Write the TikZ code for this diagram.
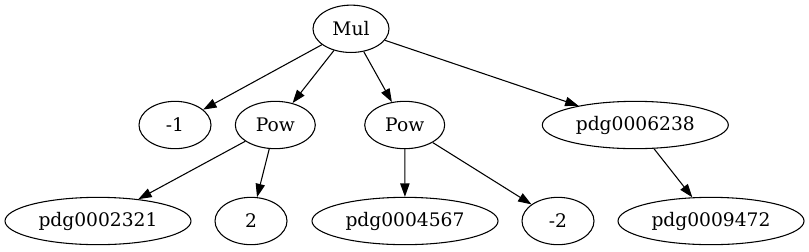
\documentclass[tikz,border=0pt]{standalone}
\usepackage{fontspec}
\setmainfont{DejaVu Serif}
\usetikzlibrary{arrows.meta,shapes.geometric}
\tikzstyle{term} = [draw, ellipse, line width=0.8pt, inner sep=0pt,
    minimum height=35.5pt, font=\fontsize{14}{16}\selectfont]
\tikzstyle{diredge} = [line width=0.8pt, -{Triangle[length=10pt,width=7pt]}]

\begin{document}
\begin{tikzpicture}[x=0.75pt,y=-0.75pt]
    \useasboundingbox (0,0) rectangle (809,251);
    \node[term, minimum width=57pt] (mul) at (351,28.8) {Mul};
    \foreach \n/\x/\w/\lab in {neg1/175/54/-1,powa/275.3/60/Pow,powb/404.7/60/Pow,pdgd/635.3/139.5/pdg0006238}{
        \node[term, minimum width=\w pt] (\n) at (\x,125) {\lab};
    }
    \foreach \n/\x/\w/\lab in {pdga/98/139.5/pdg0002321,two/251/54/2,pdgb/405/139.5/pdg0004567,neg2/558/54/-2,pdgc/711/139.5/pdg0009472}{
        \node[term, minimum width=\w pt] (\n) at (\x,221) {\lab};
    }
    \foreach \a/\b in {mul/neg1,mul/powa,mul/powb,mul/pdgd,powa/pdga,powa/two,powb/pdgb,powb/neg2,pdgd/pdgc}{
        \draw[diredge] (\a) -- (\b);
    }
\end{tikzpicture}
\end{document}
